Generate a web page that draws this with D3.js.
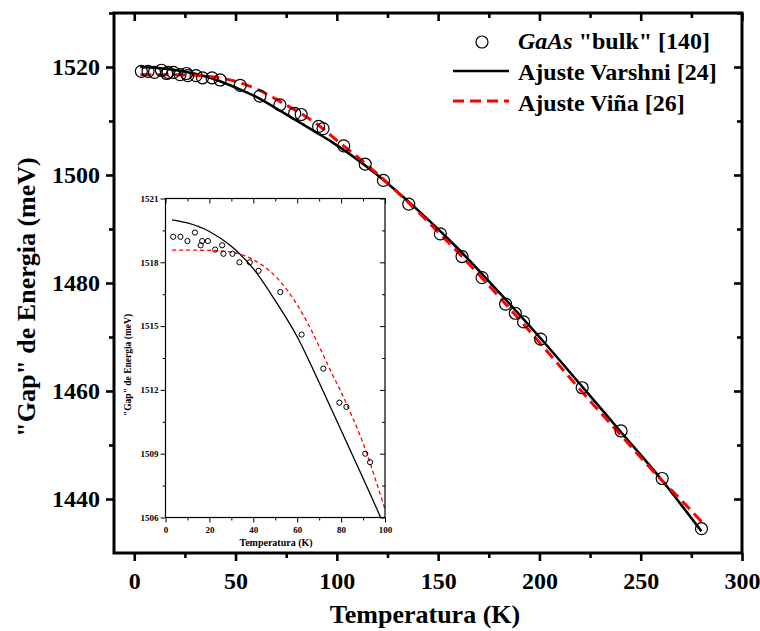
<!DOCTYPE html>
<html>
<head>
<meta charset="utf-8">
<script src="https://cdn.jsdelivr.net/npm/d3@7"></script>
<style>
	body{margin:0;background:#fff;}
	svg text{font-family:"Liberation Serif","Tinos","Times New Roman","DejaVu Serif",serif !important;font-weight:bold;}
</style>
</head>
<body>
<svg id="chart" width="760" height="631"></svg>
<script>
// measured points, GaAs bulk
const tempK = [3.5, 6.8, 10.0, 13.4, 16.0, 16.7, 19.3, 22.6, 25.8, 26.4, 30.5, 33.7, 38.4, 42.4, 52.3, 62.0, 71.9, 79.2, 82.4, 91.0, 93.2,
	103.4, 114.0, 123.0, 135.5, 151.1, 161.8, 171.7, 183.3, 188.1, 192.2, 200.6, 221.1, 240.3, 260.6, 280.0];
const gapMeV = [1519.2, 1519.2, 1519.0, 1519.4, 1518.8, 1519.0, 1519.0, 1518.6, 1518.8, 1518.4, 1518.4, 1518.0, 1518.0, 1517.6, 1516.6, 1514.6, 1513.0, 1511.4, 1511.2, 1509.0, 1508.6,
	1505.4, 1502.0, 1499.0, 1494.6, 1489.1, 1484.9, 1481.0, 1476.1, 1474.4, 1472.8, 1469.6, 1460.6, 1452.6, 1443.8, 1434.5];

// Varshni fit (black)
const varshniT = [3, 10, 20, 30, 40, 50, 60, 70, 80, 90, 98, 110, 120, 140, 160, 180, 200, 220, 240, 260, 280];
const varshniE = [1520.0, 1519.85, 1519.45, 1518.75, 1517.7, 1516.2, 1514.5, 1512.35, 1510.1, 1507.85, 1506.0,
	1502.9, 1500.0, 1493.5, 1486.3, 1478.3, 1470.0, 1461.3, 1452.5, 1443.7, 1434.0];

// Viña fit (red dashed)
const vinaT = [3, 10, 20, 30, 35, 40, 45, 50, 55, 60, 65, 70, 75, 80, 85, 90, 95, 100, 110, 120, 130, 140, 160, 180, 200, 220, 240, 260, 270, 280];
const vinaE = [1518.57, 1518.57, 1518.56, 1518.48, 1518.35, 1518.12, 1517.8, 1517.35, 1516.75, 1516.0, 1515.1, 1514.05, 1512.95, 1511.9, 1510.75, 1509.5, 1508.0, 1506.4,
	1503.4, 1500.2, 1496.8, 1493.2, 1485.6, 1477.5, 1469.0, 1460.3, 1451.9, 1443.6, 1439.8, 1435.8];

const mainXTicks = [0, 50, 100, 150, 200, 250, 300];
const mainXMinor = [25, 75, 125, 175, 225, 275];
const mainYTicks = [1440, 1460, 1480, 1500, 1520];
const mainYMinor = [1450, 1470, 1490, 1510, 1530];
const insetXTicks = [0, 20, 40, 60, 80, 100];
const insetXMinor = [10, 30, 50, 70, 90];
const insetYTicks = [1506, 1509, 1512, 1515, 1518, 1521];
const insetYMinor = [1507.5, 1510.5, 1513.5, 1516.5, 1519.5];

const legendLabels = ['"bulk" [140]', "Ajuste Varshni [24]", "Ajuste Viña [26]"];

const FONT = '"Liberation Serif","Tinos","Times New Roman","DejaVu Serif",serif';

let svg = d3.select("#chart"),
	points = tempK.map((t, i) => ({t: t, e: gapMeV[i]})),
	varshni = varshniT.map((t, i) => ({t: t, e: varshniE[i]})),
	vina = vinaT.map((t, i) => ({t: t, e: vinaE[i]}));

function drawAxes(g, x, y, o){
	let w = x.range()[1] - x.range()[0],
		h = y.range()[0] - y.range()[1];
	let parts = [
		[d3.axisBottom(x).tickValues(o.xt).tickSize(o.big).tickPadding(o.padX).tickFormat(d3.format("d")), "translate(0," + h + ")"],
		[d3.axisBottom(x).tickValues(o.xm).tickSize(o.small).tickFormat(""), "translate(0," + h + ")"],
		[d3.axisLeft(y).tickValues(o.yt).tickSize(o.big).tickPadding(o.padY).tickFormat(d3.format("d")), null],
		[d3.axisLeft(y).tickValues(o.ym).tickSize(o.small).tickFormat(""), null],
		// mirror ticks point inwards
		[d3.axisTop(x).tickValues(o.xt).tickSize(-o.big).tickFormat(""), null],
		[d3.axisTop(x).tickValues(o.xm).tickSize(-o.small).tickFormat(""), null],
		[d3.axisRight(y).tickValues(o.yt).tickSize(-o.big).tickFormat(""), "translate(" + w + ",0)"],
		[d3.axisRight(y).tickValues(o.ym).tickSize(-o.small).tickFormat(""), "translate(" + w + ",0)"]
	];
	parts.forEach(p => {
		let a = g.append("g").attr("transform", p[1]).call(p[0].tickSizeOuter(0))
			.attr("font-family", FONT);
		a.select(".domain").remove();
		a.selectAll("line").attr("stroke", "#000").attr("stroke-width", o.tickW);
		a.selectAll("text").attr("fill", "#000").style("font-size", o.font + "px");
	});
	g.append("rect").attr("width", w).attr("height", h)
		.attr("fill", "none").attr("stroke", "#000").attr("stroke-width", o.frameW);
}

// ---- main plot ----
let m = {left: 114, top: 13, right: 742, bottom: 553},
	x = d3.scaleLinear().domain([-10, 300]).range([0, m.right - m.left]),
	y = d3.scaleLinear().domain([1430, 1530]).range([m.bottom - m.top, 0]),
	main = svg.append("g").attr("transform", "translate(" + m.left + "," + m.top + ")");

let line = d3.line().x(d => x(d.t)).y(d => y(d.e)).curve(d3.curveMonotoneX);

main.append("path").datum(varshni).attr("d", line)
	.attr("fill", "none").attr("stroke", "#000").attr("stroke-width", 2.6);
main.append("path").datum(vina).attr("d", line)
	.attr("fill", "none").attr("stroke", "#ff0000").attr("stroke-width", 3).attr("stroke-dasharray", "11,6");
main.selectAll("circle.pt").data(points).enter().append("circle")
	.attr("class", "pt").attr("cx", d => x(d.t)).attr("cy", d => y(d.e)).attr("r", 6)
	.attr("fill", "none").attr("stroke", "#000").attr("stroke-width", 1.2);

drawAxes(main, x, y, {xt: mainXTicks, xm: mainXMinor, yt: mainYTicks, ym: mainYMinor,
	big: 8, small: 5, padX: 11, padY: 6, tickW: 2.6, frameW: 3, font: 24});

svg.append("text").attr("x", 425).attr("y", 623).attr("text-anchor", "middle")
	.style("font-size", "26px").text("Temperatura (K)");
svg.append("text").attr("transform", "translate(35,297) rotate(-90)").attr("text-anchor", "middle")
	.style("font-size", "26px").text('"Gap" de Energia (meV)');

// legend
let leg = svg.append("g").style("font-size", "24px");
leg.append("circle").attr("cx", 482).attr("cy", 42).attr("r", 6)
	.attr("fill", "none").attr("stroke", "#000").attr("stroke-width", 1.2);
let t0 = leg.append("text").attr("x", 518).attr("y", 49);
t0.append("tspan").style("font-style", "italic").text("GaAs");
t0.append("tspan").text(" " + legendLabels[0]);
leg.append("line").attr("x1", 453).attr("x2", 509).attr("y1", 71).attr("y2", 71)
	.attr("stroke", "#000").attr("stroke-width", 2.6);
leg.append("text").attr("x", 518).attr("y", 80).text(legendLabels[1]);
leg.append("line").attr("x1", 453).attr("x2", 509).attr("y1", 101).attr("y2", 101)
	.attr("stroke", "#ff0000").attr("stroke-width", 3).attr("stroke-dasharray", "11,6");
leg.append("text").attr("x", 518).attr("y", 111).text(legendLabels[2]);

// ---- inset ----
let n = {left: 165.5, top: 198.5, right: 385, bottom: 517.5},
	xi = d3.scaleLinear().domain([0, 100]).range([0, n.right - n.left]),
	yi = d3.scaleLinear().domain([1506, 1521]).range([n.bottom - n.top, 0]),
	inset = svg.append("g").attr("transform", "translate(" + n.left + "," + n.top + ")");

inset.append("rect").attr("width", n.right - n.left).attr("height", n.bottom - n.top).attr("fill", "#fff");
svg.append("clipPath").attr("id", "insetClip").append("rect")
	.attr("width", n.right - n.left).attr("height", n.bottom - n.top);

let lineI = d3.line().x(d => xi(d.t)).y(d => yi(d.e)).curve(d3.curveMonotoneX),
	plotI = inset.append("g").attr("clip-path", "url(#insetClip)");

plotI.append("path").datum(varshni).attr("d", lineI)
	.attr("fill", "none").attr("stroke", "#000").attr("stroke-width", 1.3);
plotI.append("path").datum(vina).attr("d", lineI)
	.attr("fill", "none").attr("stroke", "#ff0000").attr("stroke-width", 1.3).attr("stroke-dasharray", "4,3");
plotI.selectAll("circle").data(points.filter(d => d.t <= 100)).enter().append("circle")
	.attr("cx", d => xi(d.t)).attr("cy", d => yi(d.e)).attr("r", 2.6)
	.attr("fill", "none").attr("stroke", "#000").attr("stroke-width", 1);

drawAxes(inset, xi, yi, {xt: insetXTicks, xm: insetXMinor, yt: insetYTicks, ym: insetYMinor,
	big: 5, small: 3, padX: 4, padY: 2, tickW: 1, frameW: 1.2, font: 9});

svg.append("text").attr("x", 276).attr("y", 546).attr("text-anchor", "middle")
	.style("font-size", "10px").text("Temperatura (K)");
svg.append("text").attr("transform", "translate(131,365) rotate(-90)").attr("text-anchor", "middle")
	.style("font-size", "9.5px").text('"Gap" de Energia (meV)');
</script>
</body>
</html>
